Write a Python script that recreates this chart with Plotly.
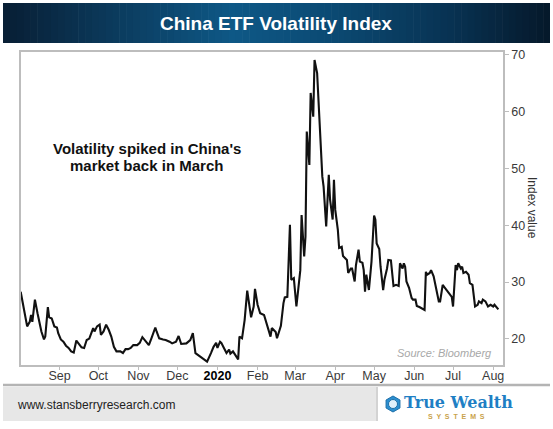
import plotly.graph_objects as go
import math

# ---------------- data ----------------
dates = [
    "2019-08-02", "2019-08-04", "2019-08-07", "2019-08-09", "2019-08-10", "2019-08-11", "2019-08-13", "2019-08-15", "2019-08-17",
    "2019-08-18", "2019-08-20", "2019-08-21", "2019-08-23", "2019-08-24", "2019-08-26", "2019-08-28", "2019-08-30", "2019-08-31",
    "2019-09-02", "2019-09-04", "2019-09-06", "2019-09-08", "2019-09-10", "2019-09-12", "2019-09-14", "2019-09-16", "2019-09-18",
    "2019-09-20", "2019-09-22", "2019-09-24", "2019-09-27", "2019-09-28", "2019-09-30",
    "2019-10-02", "2019-10-03", "2019-10-05", "2019-10-07", "2019-10-09", "2019-10-11", "2019-10-13", "2019-10-15", "2019-10-18",
    "2019-10-20", "2019-10-22", "2019-10-24", "2019-10-26", "2019-10-28", "2019-10-31",
    "2019-11-02", "2019-11-04", "2019-11-06", "2019-11-09", "2019-11-11", "2019-11-14", "2019-11-15", "2019-11-17", "2019-11-20",
    "2019-11-22", "2019-11-25", "2019-11-27", "2019-11-30",
    "2019-12-02", "2019-12-04", "2019-12-06", "2019-12-08", "2019-12-11", "2019-12-13", "2019-12-15", "2019-12-17", "2019-12-19",
    "2019-12-22", "2019-12-24", "2019-12-27", "2019-12-29", "2019-12-31",
    "2020-01-01", "2020-01-03", "2020-01-04", "2020-01-06", "2020-01-08", "2020-01-10", "2020-01-11", "2020-01-13", "2020-01-15",
    "2020-01-17", "2020-01-18", "2020-01-20", "2020-01-22", "2020-01-24", "2020-01-25", "2020-01-27", "2020-01-29", "2020-01-30",
    "2020-02-01", "2020-02-03", "2020-02-06", "2020-02-08", "2020-02-11", "2020-02-12", "2020-02-15", "2020-02-16", "2020-02-19",
    "2020-02-21", "2020-02-22", "2020-02-24", "2020-02-26", "2020-02-27", "2020-02-29",
    "2020-03-02", "2020-03-04", "2020-03-05", "2020-03-06", "2020-03-08", "2020-03-09", "2020-03-10", "2020-03-12", "2020-03-13",
    "2020-03-15", "2020-03-16", "2020-03-18", "2020-03-20", "2020-03-22", "2020-03-23", "2020-03-25", "2020-03-27", "2020-03-28",
    "2020-03-30", "2020-03-31",
    "2020-04-01", "2020-04-03", "2020-04-04", "2020-04-06", "2020-04-07", "2020-04-10", "2020-04-11", "2020-04-13", "2020-04-14",
    "2020-04-16", "2020-04-17", "2020-04-19", "2020-04-20", "2020-04-22", "2020-04-23", "2020-04-24", "2020-04-25", "2020-04-27",
    "2020-04-29",
    "2020-05-01", "2020-05-02", "2020-05-03", "2020-05-05", "2020-05-06", "2020-05-08", "2020-05-09", "2020-05-11", "2020-05-12",
    "2020-05-14", "2020-05-16", "2020-05-18", "2020-05-20", "2020-05-21", "2020-05-23", "2020-05-24", "2020-05-25", "2020-05-26",
    "2020-05-28", "2020-05-30", "2020-05-31",
    "2020-06-02", "2020-06-03", "2020-06-05", "2020-06-07", "2020-06-09", "2020-06-10", "2020-06-11", "2020-06-13", "2020-06-14",
    "2020-06-16", "2020-06-17", "2020-06-19", "2020-06-20", "2020-06-21", "2020-06-23", "2020-06-25", "2020-06-26", "2020-06-28",
    "2020-06-30",
    "2020-07-01", "2020-07-03", "2020-07-04", "2020-07-05", "2020-07-07", "2020-07-08", "2020-07-09", "2020-07-11", "2020-07-13",
    "2020-07-14", "2020-07-16", "2020-07-17", "2020-07-18", "2020-07-20", "2020-07-21", "2020-07-23", "2020-07-24", "2020-07-26",
    "2020-07-28", "2020-07-30",
    "2020-08-01", "2020-08-02", "2020-08-04", "2020-08-05",
]

index_values = [
    28.3, 25.7, 22.2, 23.0, 24.2, 23.0, 26.9, 24.5, 21.9, 21.3, 19.9, 20.4, 25.6, 23.8, 23.6, 22.2, 22.0, 21.0,
    19.9, 19.5, 18.8, 18.4, 17.8, 17.6, 19.7, 19.1, 18.5, 18.4, 19.8, 20.05, 21.9, 21.3, 22.2,
    22.5, 20.7, 21.3, 22.5, 21.6, 20.4, 18.6, 17.8, 17.8, 17.5, 18.2, 18.2, 18.4, 18.9, 18.9,
    19.3, 20.3, 19.8, 18.9, 20.1, 22.0, 21.3, 20.1, 19.9, 19.8, 19.5, 19.2, 19.5,
    20.5, 19.1, 19.2, 19.2, 19.8, 21.0, 17.5, 17.2, 16.9, 16.4, 16.0, 17.5, 18.6, 19.3,
    18.4, 19.5, 19.3, 18.4, 17.5, 18.1, 17.4, 17.8, 17.2, 16.4, 20.4, 20.1, 23.3, 28.5, 26.9, 23.8, 25.7, 28.8,
    26.0, 24.5, 24.2, 22.8, 20.4, 21.9, 21.2, 20.1, 22.3, 26.3, 27.3, 27.4, 40.1, 30.4, 30.7,
    25.7, 29.8, 32.1, 41.8, 34.5, 38.0, 56.5, 50.6, 63.3, 59.1, 69.1, 66.8, 57.4, 48.6, 46.8, 39.8, 48.9, 44.5, 41.0, 48.0,
    42.7, 39.2, 36.0, 36.2, 34.6, 33.9, 31.6, 32.4, 32.4, 30.1, 33.0, 35.7, 33.6, 33.4, 32.1, 28.3, 31.3, 28.6, 33.6,
    41.7, 41.0, 36.8, 35.8, 32.7, 28.6, 30.4, 32.4, 33.9, 33.8, 29.3, 29.5, 29.3, 33.3, 32.4, 33.3, 32.7, 30.1, 29.0, 27.2, 26.9,
    26.9, 25.8, 25.6, 25.4, 25.1, 31.8, 31.3, 31.6, 32.1, 31.0, 29.8, 28.0, 26.6, 26.6, 29.5, 28.9, 28.6, 28.0, 27.4,
    25.7, 33.0, 32.1, 33.3, 32.4, 32.7, 31.6, 31.8, 31.3, 29.8, 29.5, 27.4, 25.7, 26.0, 26.6, 26.3, 26.9, 26.6, 25.7, 26.0,
    25.7, 26.0, 25.4, 25.2,
]
assert len(dates) == len(index_values)

month_ticks = ["2019-09-01", "2019-10-01", "2019-11-01", "2019-12-01", "2020-01-01", "2020-02-01",
               "2020-03-01", "2020-04-01", "2020-05-01", "2020-06-01", "2020-07-01", "2020-08-01"]
month_labels = ["Sep", "Oct", "Nov", "Dec", "<b><span style='color:#000'>2020</span></b>", "Feb",
                "Mar", "Apr", "May", "Jun", "Jul", "Aug"]
y_ticks = [20, 30, 40, 50, 60, 70]

title_text = "China ETF Volatility Index"
note_lines = ["Volatility spiked in China's", "market back in March"]
source_text = "Source: Bloomberg"
y_title = "Index value"
footer_url = "www.stansberryresearch.com"

# ---------------- layout helpers ----------------
W, H = 553, 429
L, R, T, B = 21, 503, 52, 365   # plot area in pixels


def px(x):
    return (x - L) / (R - L)


def py(y):
    return (B - y) / (B - T)


FONT = "Arial, 'Liberation Sans', sans-serif"

fig = go.Figure()
fig.add_trace(go.Scatter(x=dates, y=index_values, mode="lines",
                         line=dict(color="#111111", width=2.1), showlegend=False,
                         hoverinfo="x+y"))

shapes = []
annotations = []

# Title banner: horizontal gradient built from thin strips
stops = [(0.0, (8, 30, 52)), (0.2, (11, 58, 92)), (0.42, (14, 88, 134)),
         (0.6, (11, 74, 115)), (0.82, (8, 50, 82)), (1.0, (5, 24, 42))]


def grad(t):
    for (t0, c0), (t1, c1) in zip(stops[:-1], stops[1:]):
        if t0 <= t <= t1:
            f = (t - t0) / (t1 - t0)
            return "rgb(%d,%d,%d)" % tuple(round(a + (b - a) * f) for a, b in zip(c0, c1))
    return "rgb(5,24,42)"


bx0, bx1, by0, by1 = 3, 550, 3, 43
n = 80
for i in range(n):
    xa = bx0 + (bx1 - bx0) * i / n
    xb = bx0 + (bx1 - bx0) * (i + 1) / n + 0.6
    shapes.append(dict(type="rect", xref="paper", yref="paper",
                       x0=px(xa), x1=px(min(xb, bx1)), y0=py(by1), y1=py(by0),
                       fillcolor=grad((i + 0.5) / n), line=dict(width=0), layer="below"))

annotations.append(dict(text="<b>%s</b>" % title_text, xref="paper", yref="paper",
                        x=px(276), y=py(23), xanchor="center", yanchor="middle", showarrow=False,
                        font=dict(family=FONT, size=19, color="white")))

# Chart annotation
annotations.append(dict(text="<b>%s</b>" % note_lines[0], xref="paper", yref="paper",
                        x=px(146.5), y=py(148), xanchor="center", yanchor="middle", showarrow=False,
                        font=dict(family=FONT, size=15, color="#111111")))
annotations.append(dict(text="<b>%s</b>" % note_lines[1], xref="paper", yref="paper",
                        x=px(146.5), y=py(165.5), xanchor="center", yanchor="middle", showarrow=False,
                        font=dict(family=FONT, size=15, color="#111111")))

# Source
annotations.append(dict(text="<i>%s</i>" % source_text, xref="paper", yref="paper",
                        x=px(494), y=py(353), xanchor="right", yanchor="middle", showarrow=False,
                        font=dict(family=FONT, size=11, color="#a8a8a8")))

# Y axis title (rotated, reading top to bottom)
annotations.append(dict(text=y_title, xref="paper", yref="paper",
                        x=px(532), y=py(208), xanchor="center", yanchor="middle", showarrow=False,
                        textangle=90, font=dict(family=FONT, size=12, color="#333333")))

# Footer
shapes.append(dict(type="line", xref="paper", yref="paper", x0=px(3), x1=px(550),
                   y0=py(385), y1=py(385), line=dict(color="#b4b4b4", width=2.5)))
shapes.append(dict(type="rect", xref="paper", yref="paper", x0=px(3), x1=px(376),
                   y0=py(421), y1=py(387), fillcolor="#e7e7e7", line=dict(width=0)))
shapes.append(dict(type="line", xref="paper", yref="paper", x0=px(377), x1=px(377),
                   y0=py(421), y1=py(387), line=dict(color="#c4c4c4", width=1.5)))
annotations.append(dict(text=footer_url, xref="paper", yref="paper",
                        x=px(15), y=py(405), xanchor="left", yanchor="middle", showarrow=False,
                        font=dict(family=FONT, size=12, color="#222222")))

# Logo: hexagon icon
cx, cy, rr = 393, 404, 8
hexpts = [(cx + rr * math.cos(math.radians(30 + 60 * k)), cy + rr * math.sin(math.radians(30 + 60 * k))) for k in range(6)]
path = "M " + " L ".join("%.4f,%.4f" % (px(a), py(b)) for a, b in hexpts) + " Z"
shapes.append(dict(type="path", xref="paper", yref="paper", path=path,
                   fillcolor="#2b8fd0", line=dict(color="#1d6fa8", width=1)))
shapes.append(dict(type="circle", xref="paper", yref="paper", x0=px(cx - 4.5), x1=px(cx + 4.5),
                   y0=py(cy + 4.5), y1=py(cy - 4.5), fillcolor="#dff0fb", line=dict(color="#1d6fa8", width=1)))
annotations.append(dict(text="<b>True Wealth</b>", xref="paper", yref="paper",
                        x=px(402), y=py(402), xanchor="left", yanchor="middle", showarrow=False,
                        font=dict(family="'DejaVu Serif', serif", size=16, color="#1f7fc4")))
annotations.append(dict(text="<b>S  Y  S  T  E  M  S</b>", xref="paper", yref="paper",
                        x=px(456), y=py(416), xanchor="center", yanchor="middle", showarrow=False,
                        font=dict(family=FONT, size=7, color="#c9a24a")))

fig.update_layout(
    width=W, height=H,
    margin=dict(l=L, r=W - R, t=T, b=H - B, pad=0),
    paper_bgcolor="white", plot_bgcolor="white",
    shapes=shapes, annotations=annotations,
    font=dict(family=FONT, size=12, color="#444444"),
    xaxis=dict(type="date", range=["2019-08-02 06:00", "2020-08-08 14:00"],
               tickmode="array", tickvals=month_ticks, ticktext=month_labels,
               showgrid=False, zeroline=False, showline=True, linecolor="#bdbdbd", linewidth=1.5,
               mirror=True, ticks="outside", ticklen=3, tickcolor="#bdbdbd",
               ticklabelstandoff=-5,
               tickfont=dict(family=FONT, size=12.5, color="#3a3a3a")),
    yaxis=dict(range=[15.4, 70.5], side="right", tickmode="array", tickvals=y_ticks,
               showgrid=False, zeroline=False, showline=True, linecolor="#bdbdbd", linewidth=1.5,
               mirror=True, ticks="outside", ticklen=4, tickcolor="#bdbdbd",
               tickfont=dict(family=FONT, size=12.5, color="#3a3a3a")),
)

fig.write_html("out.html")
